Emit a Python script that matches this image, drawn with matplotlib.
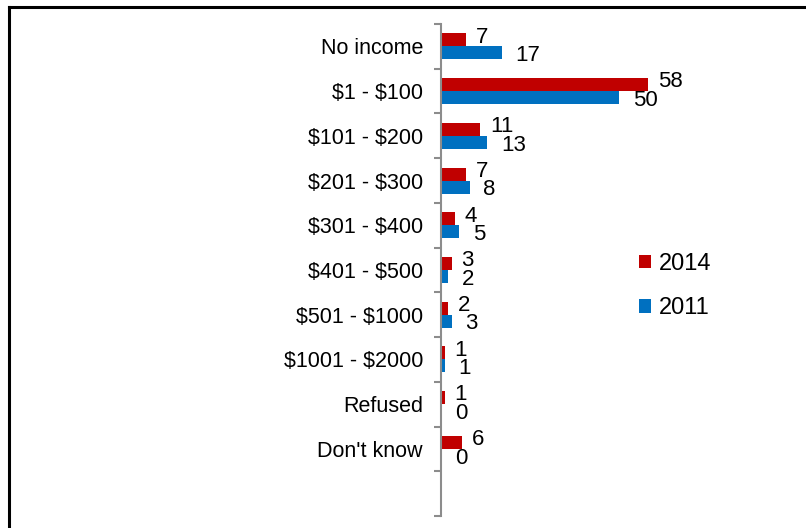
import matplotlib
matplotlib.use("Agg")
import matplotlib.pyplot as plt
from matplotlib.lines import Line2D
from matplotlib.patches import Patch
import numpy as np

plt.rcParams['font.family'] = ['Liberation Sans', 'DejaVu Sans']
plt.rcParams['text.parse_math'] = False

categories = ["No income", "$1 - $100", "$101 - $200", "$201 - $300", "$301 - $400",
              "$401 - $500", "$501 - $1000", "$1001 - $2000", "Refused", "Don't know"]
values_2014 = [7, 58, 11, 7, 4, 3, 2, 1, 1, 6]
values_2011 = [17, 50, 13, 8, 5, 2, 3, 1, 0, 0]
series_labels = ["2014", "2011"]
colors = ["#C00000", "#0070C0"]

W, H = 806, 528
fig = plt.figure(figsize=(W / 100, H / 100), dpi=100)
ax = fig.add_axes([441 / W, 12 / H, 214 / W, 492 / H])

n_slots = len(categories) + 1
y = np.arange(len(categories))
bh = 0.29

ax.barh(y - bh / 2, values_2014, height=bh, color=colors[0])
ax.barh(y + bh / 2, values_2011, height=bh, color=colors[1])

for yi, v in zip(y, values_2014):
    ax.annotate(str(v), (v, yi - bh / 2), xytext=(7, 2), textcoords="offset points",
                ha="left", va="center", fontsize=16)
for yi, v in zip(y, values_2011):
    ax.annotate(str(v), (v, yi + bh / 2), xytext=(10, -2), textcoords="offset points",
                ha="left", va="center", fontsize=16)

ax.set_xlim(0, 60)
ax.set_ylim(n_slots - 0.5, -0.5)

ax.set_yticks(np.arange(n_slots + 1) - 0.5)
ax.set_yticklabels([])
ax.set_yticks(y, minor=True)
ax.set_yticklabels(categories, minor=True, fontsize=15.5)
ax.tick_params(axis="y", which="major", length=5, width=1.5, color="#8c8c8c")
ax.tick_params(axis="y", which="minor", length=0, pad=13)
ax.set_xticks([])

for s in ["top", "right", "bottom"]:
    ax.spines[s].set_visible(False)
ax.spines["left"].set_color("#8c8c8c")
ax.spines["left"].set_linewidth(1.5)

handles = [Patch(facecolor=c) for c in colors]
fig.legend(handles, series_labels, loc="center left", bbox_to_anchor=(618 / W, 1 - 286 / H),
           frameon=False, fontsize=17, handlelength=0.5, handleheight=0.5,
           handletextpad=0.35, labelspacing=0.95)

# outer frame along the top and left edges
fig.add_artist(Line2D([9 / W, 9 / W], [0, 1 - 7 / H], color="black", lw=2.2,
                      transform=fig.transFigure, solid_capstyle="projecting"))
fig.add_artist(Line2D([9 / W, 1], [1 - 7 / H, 1 - 7 / H], color="black", lw=2.2,
                      transform=fig.transFigure, solid_capstyle="projecting"))

fig.savefig("out.png", dpi=100)
